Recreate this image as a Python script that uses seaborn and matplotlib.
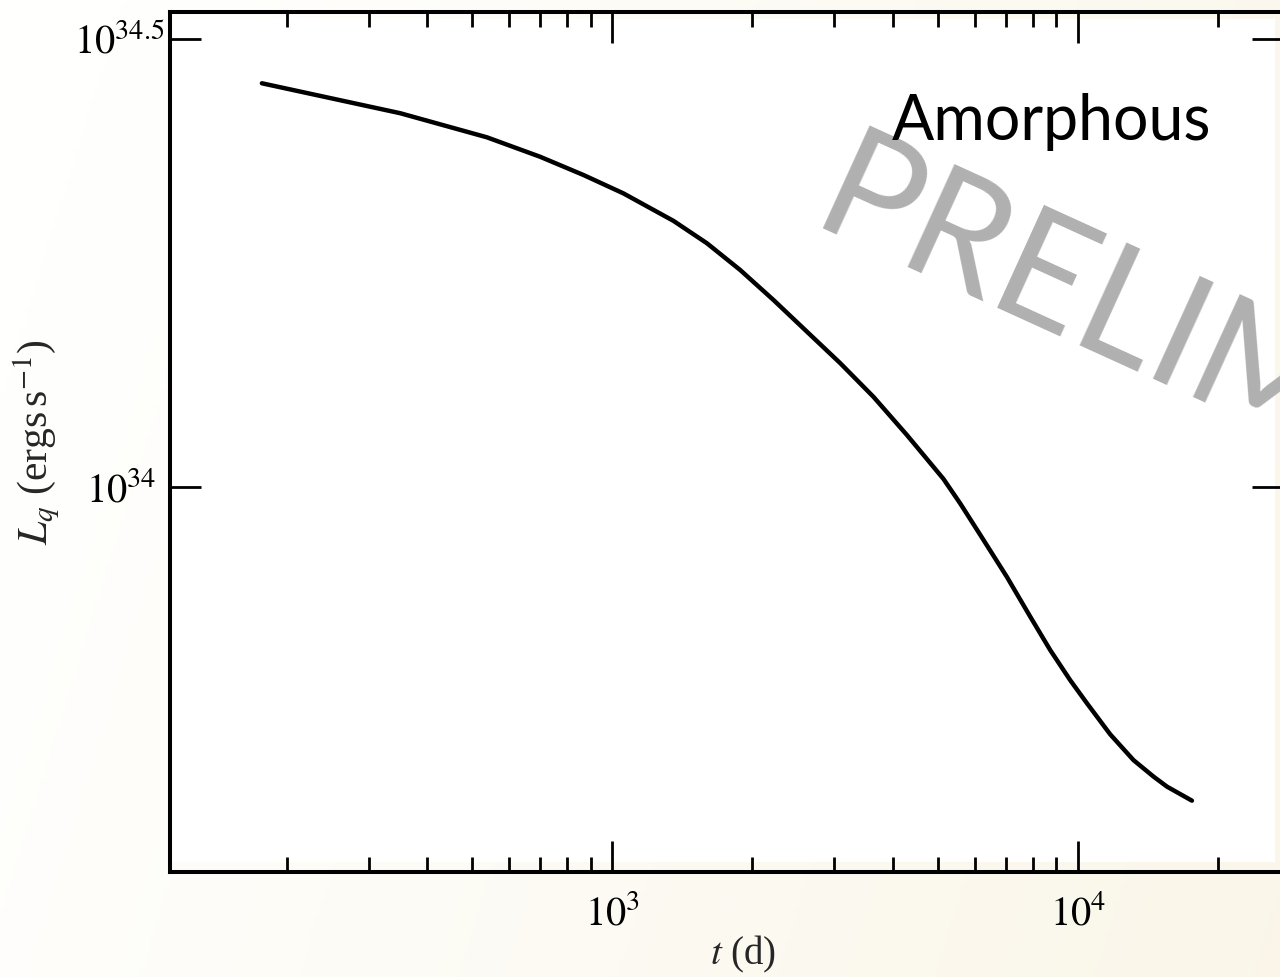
import numpy as np
import pandas as pd
import matplotlib
matplotlib.use("Agg")
import matplotlib.pyplot as plt
import matplotlib.transforms as mtransforms
from matplotlib.patches import Rectangle
from matplotlib.ticker import FixedLocator, LogLocator, NullLocator
import seaborn as sns

# Quiescent luminosity vs time since end of outburst (amorphous crust model)
t_days = [176.6, 350.0, 537.5, 699.6, 866.9, 1056.5, 1353, 1597, 1882, 2220,
          2618, 3087, 3639, 4295, 4662, 5146, 5588, 6272, 7041, 7902,
          8724, 9631, 10462, 11738, 13174, 14544, 15545, 17590]
L_q = [2.822e34, 2.613e34, 2.456e34, 2.336e34, 2.229e34, 2.126e34, 1.981e34,
       1.870e34, 1.746e34, 1.616e34, 1.490e34, 1.374e34, 1.260e34, 1.142e34,
       1.085e34, 1.020e34, 9.58e33, 8.72e33, 7.93e33, 7.16e33, 6.57e33,
       6.08e33, 5.73e33, 5.29e33, 4.95e33, 4.745e33, 4.624e33, 4.460e33]

y_tick_values = [1e34, 10 ** 34.5]
y_tick_labels = [r"$10^{34}$", r"$10^{34.5}$"]
x_tick_values = [1e3, 1e4]
x_tick_labels = [r"$10^{3}$", r"$10^{4}$"]

panel_label = "Amorphous"
watermark = "PRELIMINARY"

sns.set_theme(style="ticks")
plt.rcParams["font.family"] = ["Liberation Serif", "DejaVu Serif"]
plt.rcParams["mathtext.fontset"] = "stix"

W, H = 1280, 977
fig = plt.figure(figsize=(W / 100, H / 100), dpi=100)

# soft cream gradient behind everything
bg = fig.add_axes([0, 0, 1, 1], zorder=-10)
gx, gy = np.meshgrid(np.linspace(0, 1, 256), np.linspace(0, 1, 256))
w = np.clip(0.85 * gx + 0.2 * gy - 0.08, 0, 1)[..., None]
white = np.array([1.0, 1.0, 0.996])
cream = np.array([0.980, 0.963, 0.910])
bg.imshow(white * (1 - w) + cream * w, aspect="auto", extent=[0, 1, 0, 1],
          origin="upper")
bg.set_axis_off()

# white plotting panel
fig.patches.append(Rectangle((170 / W, 1 - 862 / H), (1275 - 170) / W,
                             (862 - 19) / H, transform=fig.transFigure,
                             facecolor="white", edgecolor="none", zorder=-5))

left, right, top, bottom = 170, 1283, 11.7, 871.7
ax = fig.add_axes([left / W, 1 - bottom / H, (right - left) / W, (bottom - top) / H])
ax.set_facecolor("none")

df = pd.DataFrame({"t": t_days, "L": L_q})
sns.lineplot(data=df, x="t", y="L", ax=ax, color="black", lw=3.2, sort=False,
             estimator=None)

ax.set_xscale("log")
ax.set_yscale("log")
ax.set_xlim(112.1, 27600)
ax.set_ylim(10 ** 33.570, 10 ** 34.5305)

ax.xaxis.set_major_locator(FixedLocator(x_tick_values))
ax.set_xticklabels(x_tick_labels)
ax.xaxis.set_minor_locator(LogLocator(base=10, subs=np.arange(2, 10), numticks=20))
ax.xaxis.set_minor_formatter(plt.NullFormatter())
ax.yaxis.set_major_locator(FixedLocator(y_tick_values))
ax.set_yticklabels(y_tick_labels)
ax.yaxis.set_minor_locator(NullLocator())

for s in ax.spines.values():
    s.set_linewidth(2.9)
    s.set_color("black")
ax.tick_params(which="both", direction="in", top=True, right=True,
               colors="black", labelsize=29)
ax.tick_params(axis="x", pad=17)
ax.tick_params(axis="y", pad=10)
ax.tick_params(which="major", length=22, width=2.0)
ax.tick_params(which="minor", length=11, width=2.0)

# the upper y label sits a little closer to the spine
upper = ax.get_yticklabels()[1]
upper.set_transform(upper.get_transform()
                    + mtransforms.ScaledTranslation(8 / 100, 0, fig.dpi_scale_trans))

ax.set_xlabel(r"$t$ (d)", fontsize=28)
ax.xaxis.set_label_coords(0.515, -0.072)
ax.set_ylabel(r"$L_q$ (ergs$\,$s$^{-1}$)", fontsize=30)
ax.yaxis.set_label_coords(-0.097, 0.5)

fig.text(892 / W, 1 - 140 / H, panel_label, fontsize=45, family=["Lato", "DejaVu Sans"],
         color="black", ha="left", va="baseline", zorder=20)
fig.text(808 / W, 1 - 228 / H, watermark, fontsize=113, family=["Lato", "DejaVu Sans"],
         color="#b0b0b0", ha="left", va="baseline", rotation=-24.5,
         rotation_mode="anchor", zorder=15)

fig.savefig("out.png", dpi=100)
